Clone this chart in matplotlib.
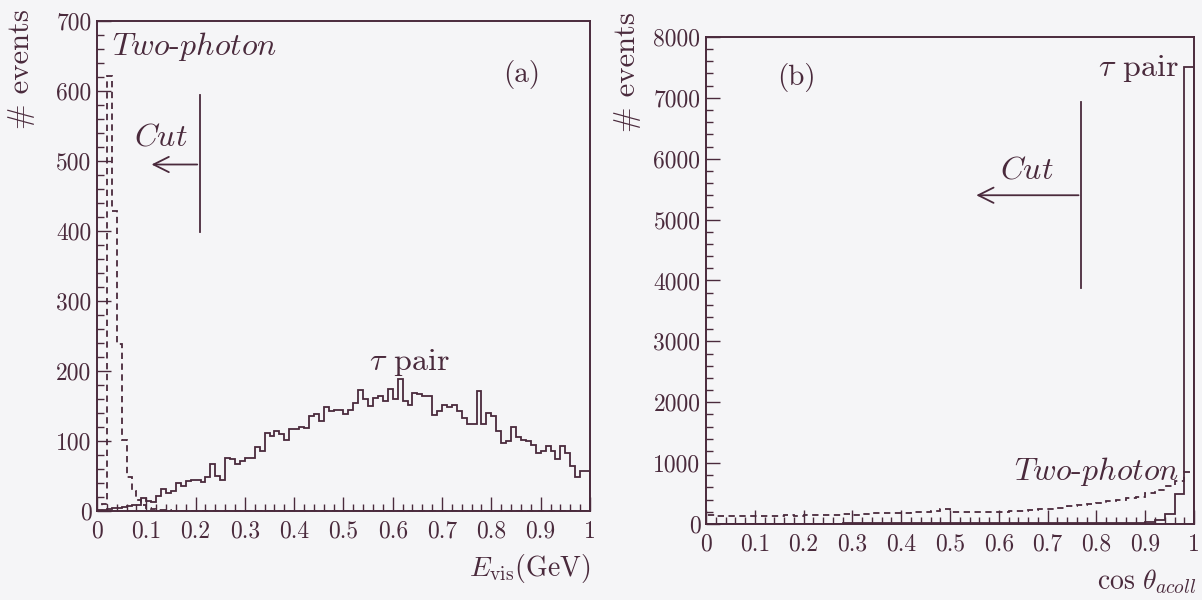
import numpy as np
import matplotlib
matplotlib.use("Agg")
import matplotlib.pyplot as plt
from matplotlib.ticker import MultipleLocator

plt.rcParams['font.family'] = ['cmr10', 'DejaVu Serif']
plt.rcParams['mathtext.fontset'] = 'cm'
plt.rcParams['axes.formatter.use_mathtext'] = True

# ---------------- data: panel (a) E_vis, 100 bins of 0.01 GeV ----------------
evis_tau = [1, 2, 3, 4, 5, 6, 7, 8, 9, 19,
            14, 13, 21, 31, 26, 29, 40, 36, 43, 44,
            45, 41, 48, 67, 50, 45, 76, 74, 67, 72,
            76, 76, 92, 86, 112, 107, 114, 110, 102, 117,
            117, 120, 119, 136, 138, 129, 149, 143, 145, 145,
            138, 144, 155, 173, 160, 150, 162, 164, 157, 175,
            160, 188, 157, 152, 169, 167, 165, 165, 137, 143,
            152, 148, 152, 143, 133, 124, 124, 171, 124, 140,
            136, 114, 97, 100, 120, 106, 102, 100, 95, 83,
            86, 93, 86, 74, 93, 83, 64, 48, 57, 57]
evis_twophoton = [0, 10, 622, 428, 238, 102, 48, 28, 16, 9,
                  5, 3, 2, 1, 1] + [0] * 85

# ---------------- data: panel (b) cos(theta_acoll), 50 bins of 0.02 ----------------
acoll_tau = [6, 6, 6, 6, 6, 6, 6, 7, 7, 7,
             7, 7, 7, 7, 8, 8, 8, 8, 8, 8,
             8, 9, 9, 9, 9, 9, 10, 10, 10, 10,
             10, 11, 11, 11, 12, 12, 12, 13, 13, 14,
             14, 15, 16, 17, 19, 25, 66, 165, 495, 7500]
acoll_twophoton = [140, 135, 130, 135, 130, 128, 130, 135, 140, 130,
                   140, 145, 150, 150, 160, 155, 170, 175, 180, 185,
                   180, 195, 200, 210, 240, 195, 190, 200, 195, 200,
                   205, 210, 215, 230, 240, 250, 270, 290, 310, 330,
                   340, 380, 390, 430, 450, 510, 560, 630, 700, 860]

ink = '#4a2a3c'
bg = '#f5f5f7'
afs = 23

fig = plt.figure(figsize=(12.02, 6.0), dpi=100, facecolor=bg)
axa = fig.add_axes([0.0807, 0.1483, 0.4101, 0.8167], facecolor=bg)
axb = fig.add_axes([0.5874, 0.1267, 0.4060, 0.8117], facecolor=bg)

edges_a = np.linspace(0, 1, len(evis_tau) + 1)
edges_b = np.linspace(0, 1, len(acoll_tau) + 1)

axa.stairs(evis_twophoton, edges_a, baseline=0, color=ink, lw=1.3,
           linestyle=(0, (3.5, 2.5)))
axa.stairs(evis_tau, edges_a, baseline=0, color=ink, lw=1.3)
axb.stairs(acoll_twophoton, edges_b, baseline=0, color=ink, lw=1.3,
           linestyle=(0, (3.5, 2.5)))
axb.stairs(acoll_tau, edges_b, baseline=0, color=ink, lw=1.3)

axa.set_xlim(0, 1)
axa.set_ylim(0, 700)
axb.set_xlim(0, 1)
axb.set_ylim(0, 8000)

for ax, ymaj, ymin in ((axa, 100, 20), (axb, 1000, 200)):
    ax.xaxis.set_major_locator(MultipleLocator(0.1))
    ax.xaxis.set_minor_locator(MultipleLocator(0.02))
    ax.yaxis.set_major_locator(MultipleLocator(ymaj))
    ax.yaxis.set_minor_locator(MultipleLocator(ymin))
    ax.tick_params(which='both', direction='in', top=False, right=False,
                   colors=ink, labelcolor=ink, labelsize=17, width=1.0)
    ax.tick_params(which='major', length=10)
    ax.tick_params(which='minor', length=5)
    ax.tick_params(axis='x', pad=7)
    ax.tick_params(axis='y', pad=4)
    for s in ax.spines.values():
        s.set_color(ink)
        s.set_linewidth(1.4)
    ax.xaxis.set_major_formatter(plt.FuncFormatter(
        lambda v, p: '0' if abs(v) < 1e-9 else ('1' if abs(v - 1) < 1e-9 else f'{v:.1f}')))
    ax.yaxis.set_major_formatter(plt.FuncFormatter(lambda v, p: f'{int(round(v))}'))

arrow = dict(arrowstyle='->,head_length=1.1,head_width=0.55', color=ink, lw=1.3)

# ---------------- annotations panel (a) ----------------
axa.text(0.03, 664, r'$Two$-$photon$', fontsize=afs, color=ink, ha='left', va='center')
axa.text(0.862, 624, '(a)', fontsize=21, color=ink, ha='center', va='center')
axa.text(0.13, 533, r'$Cut$', fontsize=afs, color=ink, ha='center', va='center')
axa.plot([0.209, 0.209], [399, 595], color=ink, lw=1.3)
axa.annotate('', xy=(0.105, 495), xytext=(0.209, 495), arrowprops=arrow)
axa.text(0.633, 212, r'$\tau$ pair', fontsize=afs, color=ink, ha='center', va='center')

# ---------------- annotations panel (b) ----------------
axb.text(0.186, 7330, '(b)', fontsize=21, color=ink, ha='center', va='center')
axb.text(0.968, 7480, r'$\tau$ pair', fontsize=afs, color=ink, ha='right', va='center')
axb.text(0.658, 5810, r'$Cut$', fontsize=afs, color=ink, ha='center', va='center')
axb.plot([0.769, 0.769], [3880, 6930], color=ink, lw=1.3)
axb.annotate('', xy=(0.548, 5400), xytext=(0.769, 5400), arrowprops=arrow)
axb.text(0.968, 860, r'$Two$-$photon$', fontsize=afs, color=ink, ha='right', va='center')

# ---------------- axis labels ----------------
fig.text(0.018, 0.985, '# events', rotation=90, fontsize=22, color=ink, ha='center', va='top')
fig.text(0.5216, 0.98, '# events', rotation=90, fontsize=22, color=ink, ha='center', va='top')
fig.text(0.4908, 0.053, r'$E_{\rm vis}$(GeV)', fontsize=20, color=ink, ha='right', va='center')
fig.text(0.9955, 0.030, r'$\cos\,\theta_{acoll}$', fontsize=20, color=ink, ha='right', va='center')

fig.savefig('out.png', dpi=100, facecolor=bg)
